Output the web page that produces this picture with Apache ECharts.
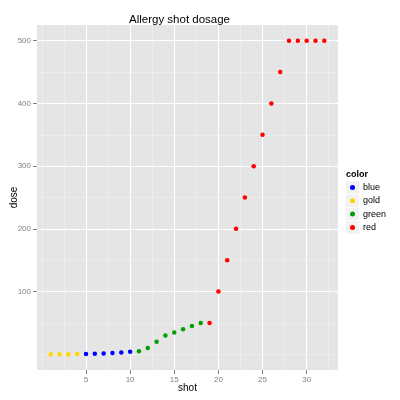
<!DOCTYPE html>
<html>
<head>
<meta charset="utf-8">
<script src="https://cdn.jsdelivr.net/npm/echarts@6/dist/echarts.min.js"></script>
<style>
  html, body { margin: 0; padding: 0; background: #fff; }
  #chart { width: 400px; height: 400px; }
</style>
</head>
<body>
<div id="chart"></div>
<script>
// 数据：每组针次和剂量
var goldShot = [1, 2, 3, 4];
var goldDose = [0.05, 0.1, 0.2, 0.4];
var blueShot = [5, 6, 7, 8, 9, 10];
var blueDose = [0.5, 1, 1.5, 2, 3, 4];
var greenShot = [11, 12, 13, 14, 15, 16, 17, 18];
var greenDose = [5, 10, 20, 30, 35, 40, 45, 50];
var redShot = [19, 20, 21, 22, 23, 24, 25, 26, 27, 28, 29, 30, 31, 32];
var redDose = [50, 100, 150, 200, 250, 300, 350, 400, 450, 500, 500, 500, 500, 500];

// 刻度
var xTicks = [5, 10, 15, 20, 25, 30];
var xMinor = [0, 2.5, 7.5, 12.5, 17.5, 22.5, 27.5, 32.5];
var yTicks = [100, 200, 300, 400, 500];
var yMinor = [0, 50, 150, 250, 350, 450];

var legendNames = ["blue", "gold", "green", "red"];
var colors = { blue: "#0000FF", gold: "#FFD700", green: "#00A000", red: "#FF0000" };

function pairs(xs, ys) {
  return xs.map(function (x, i) { return [x, ys[i]]; });
}

var FONT = "Liberation Sans";
var chart = echarts.init(document.getElementById("chart"));

// 图例的灰色小方块背景
var keyBoxes = legendNames.map(function (n, i) {
  return {
    type: "rect",
    shape: { x: 345.5, y: 181 + i * 13.3, width: 14, height: 13 },
    style: { fill: "#F2F2F2", stroke: "#fff", lineWidth: 0.5 },
    z: 0
  };
});

var xMin = -0.55, xMax = 33.55;
var yMin = -24.95, yMax = 524.95;

chart.setOption({
  animation: false,
  backgroundColor: "#fff",
  title: {
    text: "Allergy shot dosage",
    left: 124,
    top: 9,
    textStyle: { fontFamily: FONT, fontSize: 11.5, fontWeight: "normal", color: "#000" }
  },
  grid: {
    left: 37, right: 62, top: 25, bottom: 30,
    outerBoundsMode: "none",
    show: true, backgroundColor: "#E5E5E5", borderWidth: 0
  },
  legend: {
    orient: "vertical",
    left: 350,
    top: 181,
    padding: 0,
    data: legendNames,
    icon: "circle",
    itemWidth: 5,
    itemHeight: 5,
    itemGap: 0.3,
    itemStyle: { opacity: 1 },
    textStyle: { fontFamily: FONT, fontSize: 9, color: "#000", lineHeight: 13, padding: [0, 0, 0, 3] }
  },
  graphic: keyBoxes.concat([{
    type: "text",
    left: 346,
    top: 170,
    style: { text: "color", fontFamily: FONT, fontSize: 9, fontWeight: "bold", fill: "#000" }
  }]),
  xAxis: [
    {
      type: "value", position: "bottom", min: xMin, max: xMax,
      axisLine: { show: false, onZero: false },
      axisLabel: { show: false },
      axisTick: { show: false, customValues: xMinor },
      splitLine: { show: true, lineStyle: { color: "#F2F2F2", width: 0.6 } }
    },
    {
      type: "value", position: "bottom", min: xMin, max: xMax,
      name: "shot", nameLocation: "middle", nameGap: 13, nameMoveOverlap: false,
      nameTextStyle: { fontFamily: FONT, fontSize: 10, color: "#000" },
      axisLine: { show: false, onZero: false },
      axisTick: { show: true, length: 4, customValues: xTicks, lineStyle: { color: "#7F7F7F" } },
      axisLabel: { customValues: xTicks, margin: 6, fontFamily: FONT, fontSize: 8, color: "#7F7F7F" },
      splitLine: { show: true, lineStyle: { color: "#FFFFFF", width: 1.2 } }
    }
  ],
  yAxis: [
    {
      type: "value", position: "left", min: yMin, max: yMax,
      axisLine: { show: false, onZero: false },
      axisLabel: { show: false },
      axisTick: { show: false, customValues: yMinor },
      splitLine: { show: true, lineStyle: { color: "#F2F2F2", width: 0.6 } }
    },
    {
      type: "value", position: "left", min: yMin, max: yMax,
      name: "dose", nameLocation: "middle", nameGap: 18, nameMoveOverlap: false,
      nameTextStyle: { fontFamily: FONT, fontSize: 10, color: "#000" },
      axisLine: { show: false, onZero: false },
      axisTick: { show: true, length: 4, customValues: yTicks, lineStyle: { color: "#7F7F7F" } },
      axisLabel: { customValues: yTicks, margin: 6, fontFamily: FONT, fontSize: 8, color: "#7F7F7F" },
      splitLine: { show: true, lineStyle: { color: "#FFFFFF", width: 1.2 } }
    }
  ],
  series: [
    { name: "gold", data: pairs(goldShot, goldDose) },
    { name: "blue", data: pairs(blueShot, blueDose) },
    { name: "green", data: pairs(greenShot, greenDose) },
    { name: "red", data: pairs(redShot, redDose) }
  ].map(function (s) {
    return {
      type: "scatter",
      name: s.name,
      xAxisIndex: 1,
      yAxisIndex: 1,
      data: s.data,
      symbol: "circle",
      symbolSize: 4.5,
      itemStyle: { color: colors[s.name], opacity: 1 },
      z: 5
    };
  })
});
</script>
</body>
</html>
